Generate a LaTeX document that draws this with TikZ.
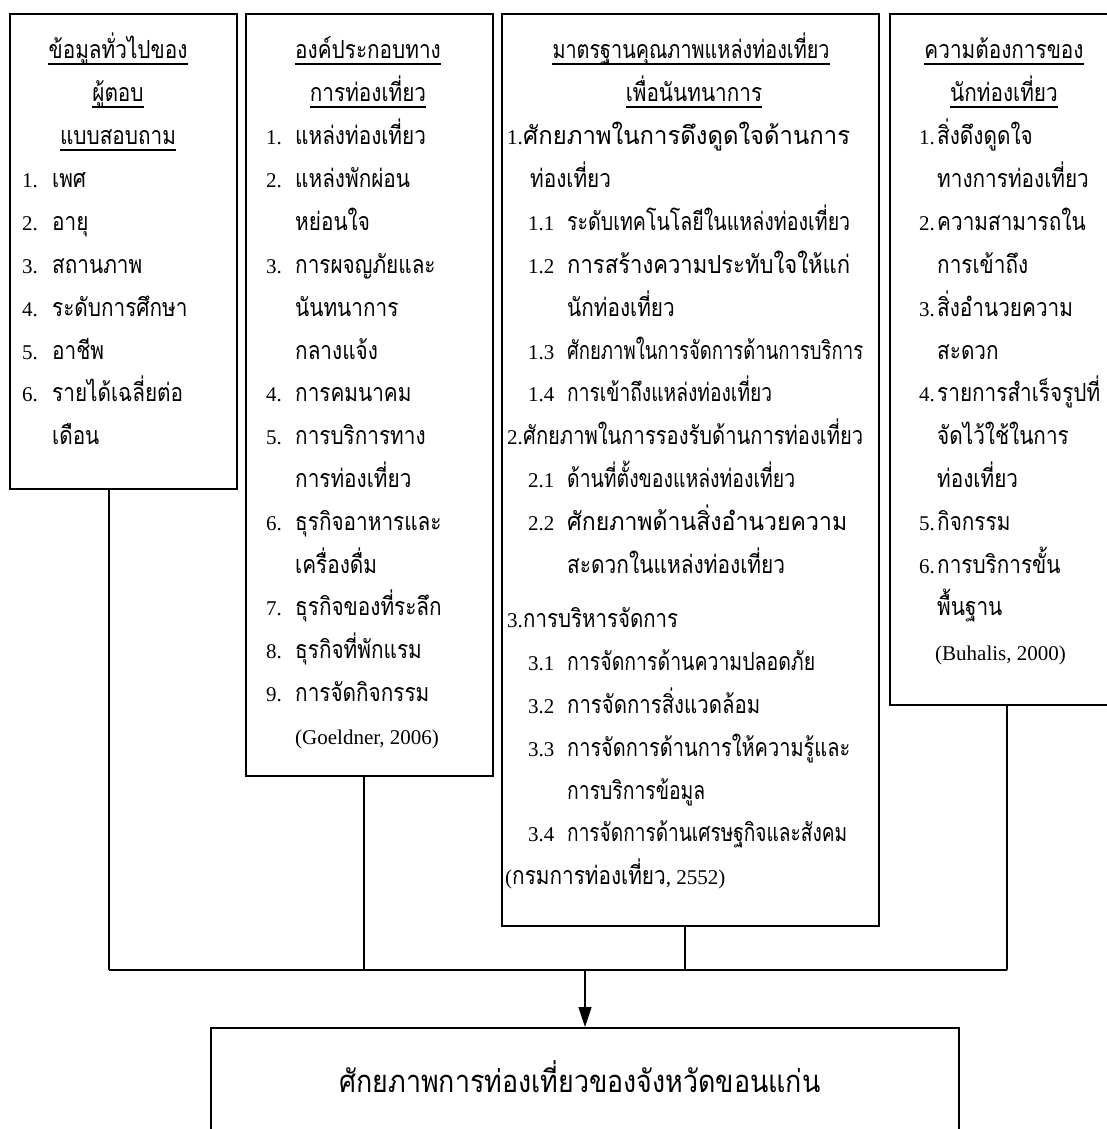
\documentclass[tikz,border=0pt]{standalone}
\usepackage{fontspec}
\usepackage{graphicx}
\usetikzlibrary{arrows.meta}
\setmainfont{Liberation Serif}
\newfontfamily\thaifont[Script=Thai,FakeStretch=0.83]{Loma}
\newcommand\THf{\thaifont\fontsize{25}{29}\selectfont}
\newcommand\LTf{\rmfamily\fontsize{21}{25}\selectfont}
\newcommand\BTf{\thaifont\fontsize{31}{36}\selectfont}
\tikzset{
  box/.style={draw, line width=1.7pt, inner sep=0pt, anchor=north west},
  conn/.style={line width=1.3pt},
  arr/.style={line width=1.6pt, -{Triangle[length=20pt,width=13pt]}},
  tl/.style={anchor=base west, inner sep=0pt},
  tt/.style={anchor=base, inner sep=0pt},
  nm/.style={anchor=base west, inner sep=0pt},
  ul/.style={line width=1.2pt}
}
\newcommand\It[6]{\node[nm] (#1n) at (#2,#4) {\LTf #5}; \node[tl] (#1) at (#3,#4) {\THf #6};}
\newcommand\Iz[7]{\node[nm] (#1n) at (#2,#4) {\LTf #5}; \node[tl] (#1) at (#3,#4) {\resizebox{#6pt}{\height}{\THf #7}};}
\newcommand\Tx[4]{\node[tl] (#1) at (#2,#3) {\THf #4};}
\newcommand\Tz[5]{\node[tl] (#1) at (#2,#3) {\resizebox{#4pt}{\height}{\THf #5}};}
\newcommand\Ti[4]{\node[tt] (#1) at (#2,#3) {\THf #4}; \draw[ul] ([yshift=-5pt]#1.base west) -- ([yshift=-5pt]#1.base east);}
\begin{document}
\begin{tikzpicture}[x=1pt,y=-1pt]
\useasboundingbox (0,0) rectangle (1107,1129);
\fill[white] (0,0) rectangle (1107,1129);
\clip (0,0) rectangle (1107,1129);
% boxes
\node[box, minimum width=227pt, minimum height=475pt] (b1) at (9,13) {};
\node[box, minimum width=247pt, minimum height=762pt] (b2) at (245,13) {};
\node[box, minimum width=377pt, minimum height=912pt] (b3) at (501,13) {};
\node[box, minimum width=240pt, minimum height=691pt] (b4) at (889,13) {};
\node[box, minimum width=748pt, minimum height=140pt] (b5) at (210,1027) {};
% box 1
\Ti{a0}{118}{59}{ข้อมูลทั่วไปของ}
\Ti{a1}{118}{102}{ผู้ตอบ}
\Ti{a2}{118}{145}{แบบสอบถาม}
\It{a3}{22}{52}{187}{1.}{เพศ}
\It{a4}{22}{52}{230}{2.}{อายุ}
\It{a5}{22}{52}{273}{3.}{สถานภาพ}
\It{a6}{22}{52}{316}{4.}{ระดับการศึกษา}
\It{a7}{22}{52}{359}{5.}{อาชีพ}
\It{a8}{22}{52}{401}{6.}{รายได้เฉลี่ยต่อ}
\Tx{a9}{52}{444}{เดือน}
% box 2
\Ti{b0}{368}{59}{องค์ประกอบทาง}
\Ti{b1t}{368}{102}{การท่องเที่ยว}
\It{b2i}{266}{295}{145}{1.}{แหล่งท่องเที่ยว}
\It{b3i}{266}{295}{187}{2.}{แหล่งพักผ่อน}
\Tx{b4i}{295}{230}{หย่อนใจ}
\It{b5i}{266}{295}{273}{3.}{การผจญภัยและ}
\Tx{b6i}{295}{316}{นันทนาการ}
\Tx{b7i}{295}{359}{กลางแจ้ง}
\It{b8i}{266}{295}{401}{4.}{การคมนาคม}
\It{b9i}{266}{295}{444}{5.}{การบริการทาง}
\Tx{b10i}{295}{487}{การท่องเที่ยว}
\It{b11i}{266}{295}{530}{6.}{ธุรกิจอาหารและ}
\Tx{b12i}{295}{573}{เครื่องดื่ม}
\It{b13i}{266}{295}{615}{7.}{ธุรกิจของที่ระลึก}
\It{b14i}{266}{295}{658}{8.}{ธุรกิจที่พักแรม}
\It{b15i}{266}{295}{701}{9.}{การจัดกิจกรรม}
\node[nm] (b16i) at (295,744) {\LTf (Goeldner, 2006)};
% box 3
\node[tt] (c0) at (691,59) {\resizebox{277pt}{\height}{\THf มาตรฐานคุณภาพแหล่งท่องเที่ยว}};
\draw[ul] ([yshift=-5pt]c0.base west) -- ([yshift=-5pt]c0.base east);
\Ti{c1}{694}{102}{เพื่อนันทนาการ}
\Iz{c2}{507}{523}{145}{1.}{327}{ศักยภาพในการดึงดูดใจด้านการ}
\Tx{c3}{530}{187}{ท่องเที่ยว}
\Iz{c4}{528}{567}{230}{1.1}{283}{ระดับเทคโนโลยีในแหล่งท่องเที่ยว}
\Iz{c5}{528}{567}{273}{1.2}{283}{การสร้างความประทับใจให้แก่}
\Tx{c6}{567}{316}{นักท่องเที่ยว}
\Iz{c7}{528}{567}{359}{1.3}{296}{ศักยภาพในการจัดการด้านการบริการ}
\Iz{c8}{528}{567}{401}{1.4}{205}{การเข้าถึงแหล่งท่องเที่ยว}
\Iz{c9}{507}{523}{444}{2.}{340}{ศักยภาพในการรองรับด้านการท่องเที่ยว}
\Iz{c10}{528}{567}{487}{2.1}{228}{ด้านที่ตั้งของแหล่งท่องเที่ยว}
\Iz{c11}{528}{567}{530}{2.2}{280}{ศักยภาพด้านสิ่งอำนวยความ}
\Tz{c12}{567}{573}{218}{สะดวกในแหล่งท่องเที่ยว}
\Iz{c13}{507}{523}{627}{3.}{155}{การบริหารจัดการ}
\Iz{c14}{528}{567}{670}{3.1}{248}{การจัดการด้านความปลอดภัย}
\Iz{c15}{528}{567}{713}{3.2}{193}{การจัดการสิ่งแวดล้อม}
\Iz{c16}{528}{567}{756}{3.3}{283}{การจัดการด้านการให้ความรู้และ}
\Tz{c17}{567}{799}{138}{การบริการข้อมูล}
\Iz{c18}{528}{567}{841}{3.4}{280}{การจัดการด้านเศรษฐกิจและสังคม}
\node[nm] (c19) at (505,884) {\LTf (\THf กรมการท่องเที่ยว\LTf , 2552)};
% box 4
\Ti{d0}{1004}{59}{ความต้องการของ}
\Ti{d1}{1004}{102}{นักท่องเที่ยว}
\It{d2}{919}{937}{145}{1.}{สิ่งดึงดูดใจ}
\Tx{d3}{937}{187}{ทางการท่องเที่ยว}
\It{d4}{919}{937}{230}{2.}{ความสามารถใน}
\Tx{d5}{937}{273}{การเข้าถึง}
\It{d6}{919}{937}{316}{3.}{สิ่งอำนวยความ}
\Tx{d7}{937}{359}{สะดวก}
\It{d8}{919}{937}{401}{4.}{รายการสำเร็จรูปที่}
\Tx{d9}{937}{444}{จัดไว้ใช้ในการ}
\Tx{d10}{937}{487}{ท่องเที่ยว}
\It{d11}{919}{937}{530}{5.}{กิจกรรม}
\It{d12}{919}{937}{573}{6.}{การบริการขั้น}
\Tx{d13}{937}{615}{พื้นฐาน}
\node[nm] (d14) at (935,660) {\LTf (Buhalis, 2000)};
% bottom text
\node[tt] (bt) at (580,1092) {\resizebox{481pt}{\height}{\BTf ศักยภาพการท่องเที่ยวของจังหวัดขอนแก่น}};
% connectors
\coordinate (j1) at (109,970);
\coordinate (j2) at (364,970);
\coordinate (j3) at (685,970);
\coordinate (j4) at (1007,970);
\coordinate (ja) at (585,970);
\draw[conn] (j1 |- b1.south) -- (j1);
\draw[conn] (j2 |- b2.south) -- (j2);
\draw[conn] (j3 |- b3.south) -- (j3);
\draw[conn] (j4 |- b4.south) -- (j4);
\draw[conn] (j1) -- (j4);
\draw[arr] (ja) -- (ja |- b5.north);
\end{tikzpicture}
\end{document}
